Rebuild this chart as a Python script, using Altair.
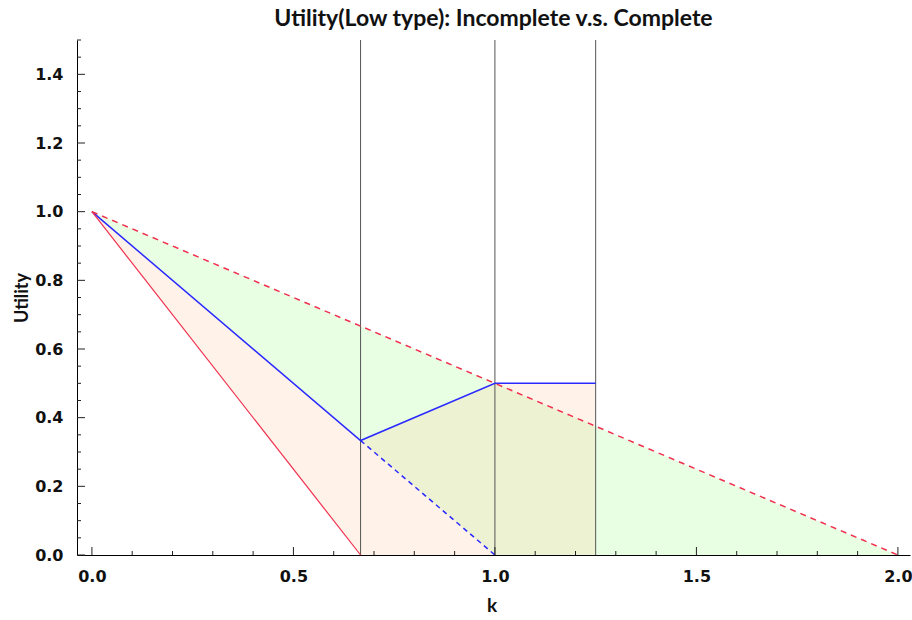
import altair as alt
import pandas as pd

W, H = 833, 515
XDOM = [-0.037, 2.03]
YDOM = [0, 1.5]

# lines
k_red_solid = [0, 2/3]
u_red_solid = [1, 0]
k_red_dash = [0, 2]
u_red_dash = [1, 0]
k_blue_solid = [0, 2/3, 1, 1.25]
u_blue_solid = [1, 1/3, 0.5, 0.5]
k_blue_dash = [2/3, 1]
u_blue_dash = [1/3, 0]
k_vlines = [2/3, 1, 1.25]

# filled regions
k_green = [0, 1, 2]
green_upper = [1, 0.5, 0]
green_lower = [1, 0, 0]
k_orange = [0, 2/3, 1, 1.25]
orange_upper = [1, 1/3, 0.5, 0.5]
orange_lower = [1, 0, 0, 0]

# ticks
x_major = [0, 0.5, 1.0, 1.5, 2.0]
x_minor = [0.1, 0.2, 0.3, 0.4, 0.6, 0.7, 0.8, 0.9, 1.1, 1.2, 1.3, 1.4,
           1.6, 1.7, 1.8, 1.9]
y_major = [0, 0.2, 0.4, 0.6, 0.8, 1.0, 1.2, 1.4]
y_minor = [0.05, 0.1, 0.15, 0.25, 0.3, 0.35, 0.45, 0.5, 0.55, 0.65, 0.7,
           0.75, 0.85, 0.9, 0.95, 1.05, 1.1, 1.15, 1.25, 1.3, 1.35, 1.45, 1.5]

RED = "#f0304f"
BLUE = "#2a2aff"

xs = alt.Scale(domain=XDOM, nice=False, zero=False)
ys = alt.Scale(domain=YDOM, nice=False, zero=False)

label_font = "DejaVu Sans"
title_font = "Lato"

x_axis = alt.Axis(values=x_major, format=".1f", ticks=False, grid=False,
                  domainColor="black", domainWidth=1, labelFont=label_font,
                  labelFontWeight="bold", labelFontSize=16, labelColor="#111",
                  labelPadding=13, title="k", titleFont=title_font,
                  titleFontWeight="bold", titleFontSize=19, titleColor="#111",
                  titleX=W / 2 - 2, titleY=50, titleBaseline="middle")
y_axis = alt.Axis(values=y_major, format=".1f", ticks=False, grid=False,
                  domainColor="black", domainWidth=1, labelFont=label_font,
                  labelFontWeight="bold", labelFontSize=16, labelColor="#111",
                  labelPadding=14, title="Utility", titleFont=title_font,
                  titleFontWeight="bold", titleFontSize=18, titleColor="#111",
                  titleX=-55, titleY=H / 2, titleBaseline="middle",
                  titleAngle=270)

X = lambda f: alt.X(f, type="quantitative", scale=xs, axis=x_axis)
Y = lambda f: alt.Y(f, type="quantitative", scale=ys, axis=y_axis)

green = alt.Chart(pd.DataFrame({"k": k_green, "hi": green_upper, "lo": green_lower})).mark_area(
    color="#96ff82", opacity=0.22).encode(
    x=X("k"), y=Y("hi"), y2="lo")

orange = alt.Chart(pd.DataFrame({"k": k_orange, "hi": orange_upper, "lo": orange_lower})).mark_area(
    color="#ffc8a0", opacity=0.24).encode(
    x=X("k"), y=Y("hi"), y2="lo")

vlines = alt.Chart(pd.DataFrame({"k": k_vlines})).mark_rule(
    color="#555555", strokeWidth=1).encode(
    x=X("k"), y=alt.value(0), y2=alt.value(H))

def lyr(k, u, color, dash=None, width=1.5):
    kw = dict(color=color, strokeWidth=width)
    if dash:
        kw["strokeDash"] = dash
    return alt.Chart(pd.DataFrame({"k": k, "u": u})).mark_line(**kw).encode(
        x=X("k"), y=Y("u"))

blue_dash = lyr(k_blue_dash, u_blue_dash, BLUE, [5, 4])
blue_solid = lyr(k_blue_solid, u_blue_solid, BLUE)
red_solid = lyr(k_red_solid, u_red_solid, RED, width=1.2)
red_dash = lyr(k_red_dash, u_red_dash, RED, [6, 5])

def xticks(vals, length):
    return alt.Chart(pd.DataFrame({"k": vals})).mark_rule(
        color="#222", strokeWidth=1).encode(
        x=X("k"), y=alt.value(H), y2=alt.value(H - length))

def yticks(vals, length):
    return alt.Chart(pd.DataFrame({"u": vals})).mark_rule(
        color="#222", strokeWidth=1).encode(
        y=Y("u"), x=alt.value(0), x2=alt.value(length))

chart = alt.layer(
    green, orange, vlines, blue_dash, blue_solid, red_solid, red_dash,
    xticks(x_major, 8), xticks(x_minor, 4), yticks(y_major, 8), yticks(y_minor, 4)
).properties(
    width=W, height=H,
    background="white",
    title=alt.TitleParams("Utility(Low type): Incomplete v.s. Complete",
                          font=title_font, fontSize=23, fontWeight="bold",
                          color="#111", offset=9, anchor="middle"),
    padding={"left": 77, "top": 40, "right": 2, "bottom": 65},
    autosize=alt.AutoSizeParams(type="none"),
).configure_view(strokeWidth=0)

chart.save("out.html", embed_options={"renderer": "svg", "actions": False})
